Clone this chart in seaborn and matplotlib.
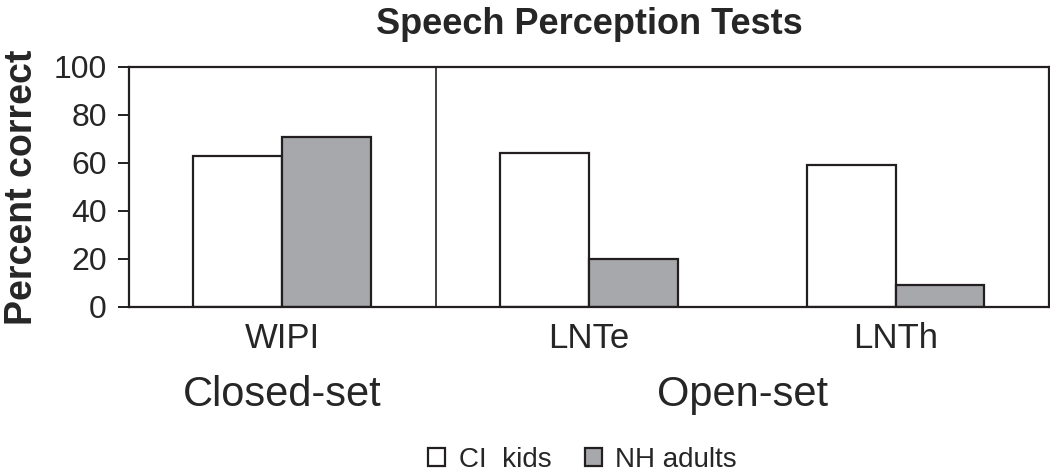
"""
Speech perception test scores: CI kids vs NH adults.
"""

import pandas as pd
import matplotlib
matplotlib.use("Agg")
import matplotlib.pyplot as plt
import matplotlib.transforms as mtransforms
import seaborn as sns

# data
tests = ["WIPI", "LNTe", "LNTh"]
ci_kids = [63, 64, 59]
nh_adults = [71, 20, 9]
groups = ["CI  kids", "NH adults"]
set_labels = ["Closed-set", "Open-set"]
set_positions = [0, 1.5]


def build_frame():
    rows = []
    for name, vals in zip(groups, [ci_kids, nh_adults]):
        for t, v in zip(tests, vals):
            rows.append({"test": t, "group": name, "score": v})
    return pd.DataFrame(rows)


def main():
    sns.set_theme(style="white")
    plt.rcParams["font.family"] = ["Liberation Sans", "DejaVu Sans"]

    edge = "#231f20"
    df = build_frame()

    fig = plt.figure(figsize=(10.5, 4.75), dpi=100)
    ax = fig.add_axes([0.1229, 0.3537, 0.876, 0.5053])

    sns.barplot(data=df, x="test", y="score", hue="group", order=tests,
                hue_order=groups, palette=["white", "#a7a8ab"], width=0.58,
                gap=0, edgecolor=edge, linewidth=1.6, saturation=1, ax=ax,
                legend=True)

    ax.set_xlim(-0.5, 2.5)
    ax.set_ylim(0, 100)
    ax.set_yticks([0, 20, 40, 60, 80, 100])
    ax.axvline(0.5, color=edge, linewidth=1.2)

    for side in ["left", "right", "top", "bottom"]:
        ax.spines[side].set_visible(True)
        ax.spines[side].set_color(edge)
        ax.spines[side].set_linewidth(1.6)

    ax.tick_params(axis="y", which="both", left=True, direction="out",
                   length=8, width=1.4, color=edge, labelsize=23, pad=8)
    ax.tick_params(axis="x", bottom=False, labelsize=25, pad=5)
    ax.set_xlabel("")
    ax.set_ylabel("Percent correct", fontsize=27, fontweight="bold", labelpad=10)
    ax.set_title("Speech Perception Tests", fontsize=26, fontweight="bold", pad=24)

    # set-type labels under the test names
    trans = mtransforms.blended_transform_factory(ax.transData, ax.transAxes)
    for pos, lab in zip(set_positions, set_labels):
        ax.text(pos, -0.365, lab, transform=trans, ha="center", va="center",
                fontsize=30)

    handles, labels = ax.get_legend_handles_labels()
    ax.legend_.remove()
    fig.legend(handles, labels, loc="center", bbox_to_anchor=(0.555, 0.032),
               ncol=2, frameon=False, fontsize=20, handlelength=0.6,
               handleheight=0.6, handletextpad=0.5, columnspacing=1.2,
               borderpad=0.1)

    fig.savefig("out.png", dpi=100)
    plt.close(fig)


if __name__ == "__main__":
    main()
